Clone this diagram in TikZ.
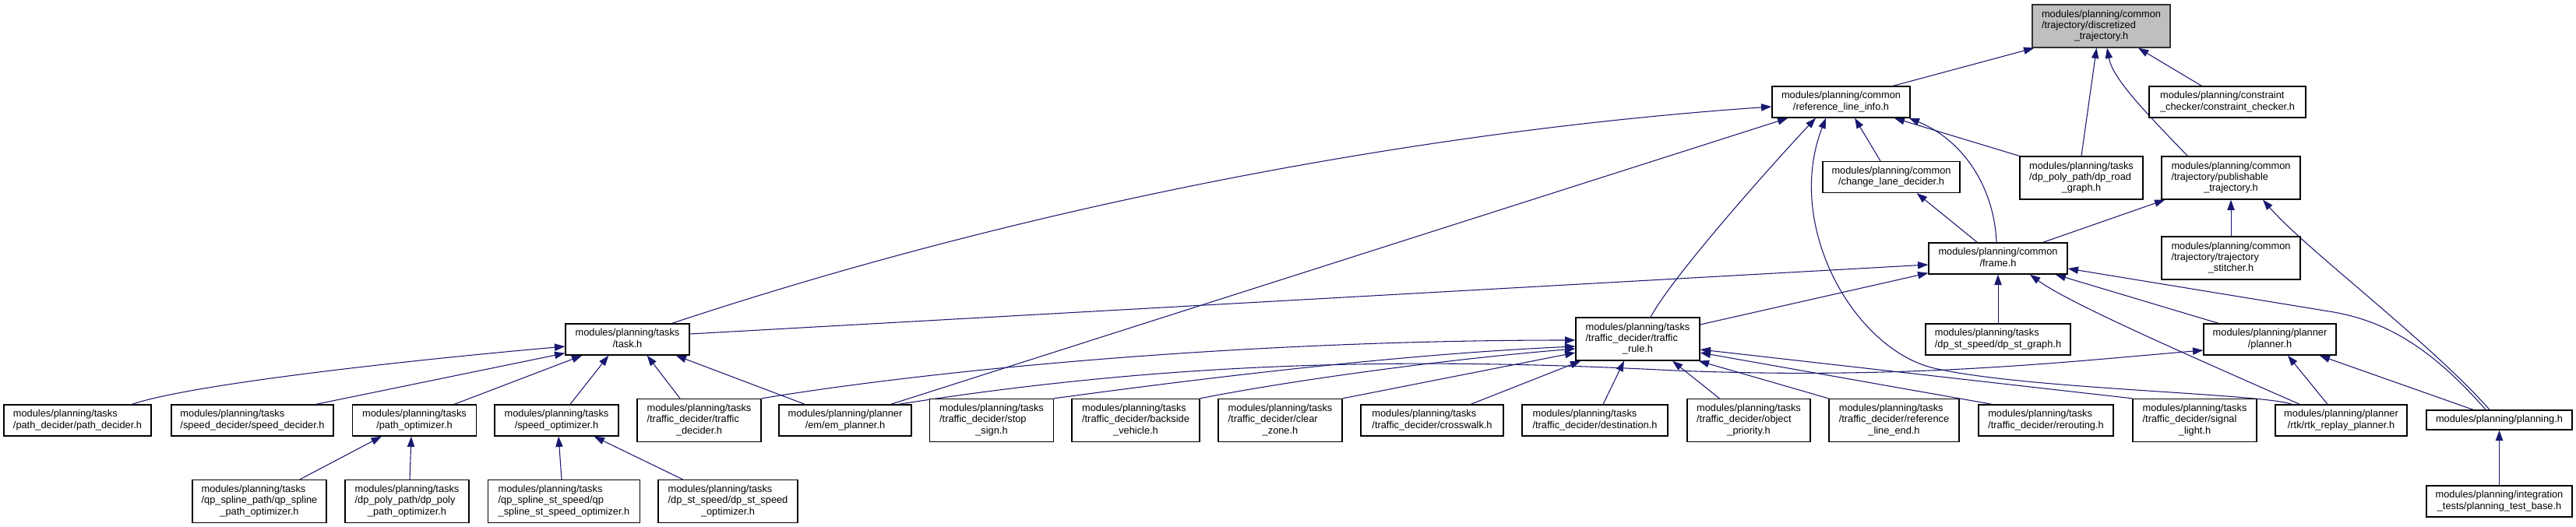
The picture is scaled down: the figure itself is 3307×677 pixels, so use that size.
\documentclass[tikz,border=0pt]{standalone}
\usepackage{fontspec}
\setmainfont{Liberation Sans}
\usetikzlibrary{arrows.meta,calc}
\definecolor{navy}{HTML}{191970}
\definecolor{rootgray}{HTML}{BFBFBF}
\newdimen\pxu \pxu=0.75pt
\newcommand\tl[2]{\begin{tabular}{@{}l@{}}#1\\\multicolumn{1}{@{}c@{}}{#2}\end{tabular}}
\pgfdeclarelayer{background}
\pgfsetlayers{background,main}
\begin{document}
\begin{tikzpicture}[x=0.75pt,y=-0.75pt,
  box/.style={draw=black,line width=1pt,fill=white,inner sep=0pt,rectangle,font=\fontsize{9.6}{10.75}\selectfont},
  rootbox/.style={fill=rootgray,draw=black!80},
  bw/.style={minimum width=#1\pxu},
  bh/.style={minimum height=#1\pxu},
  dep/.style={draw=navy,line width=0.8pt,-{Triangle[length=10pt,width=7pt]}}]
\useasboundingbox (0,0) rectangle (3307,677);
% top rows
\node[box,rootbox,bw=177,bh=55] (root) at (2697.5,33.5) {\tl{modules/planning/common\\/trajectory/discretized}{\_trajectory.h}};
\node[box,bw=177,bh=40] (rli) at (2363.5,131) {\tl{modules/planning/common}{/reference\_line\_info.h}};
\node[box,bw=201,bh=40] (cc) at (2859.5,131) {\tl{modules/planning/constraint}{\_checker/constraint\_checker.h}};
\node[box,bw=176,bh=40] (cld) at (2428,227.5) {\tl{modules/planning/common}{/change\_lane\_decider.h}};
\node[box,bw=158,bh=55] (drg) at (2672,228.5) {\tl{modules/planning/tasks\\/dp\_poly\_path/dp\_road}{\_graph.h}};
\node[box,bw=178,bh=55] (pub) at (2864,228.5) {\tl{modules/planning/common\\/trajectory/publishable}{\_trajectory.h}};
\node[box,bw=178,bh=40] (frame) at (2565,332) {\tl{modules/planning/common}{/frame.h}};
\node[box,bw=178,bh=55] (stitch) at (2864,331.5) {\tl{modules/planning/common\\/trajectory/trajectory}{\_stitcher.h}};
\node[box,bw=159,bh=40] (task) at (805.5,436) {\tl{modules/planning/tasks}{/task.h}};
\node[box,bw=159,bh=55] (trule) at (2102.5,435.5) {\tl{modules/planning/tasks\\/traffic\_decider/traffic}{\_rule.h}};
\node[box,bw=186,bh=40] (dpsg) at (2565,436) {\tl{modules/planning/tasks}{/dp\_st\_speed/dp\_st\_graph.h}};
\node[box,bw=170,bh=40] (planner) at (2914,436) {\tl{modules/planning/planner}{/planner.h}};
% row 5
\node[box,bw=189,bh=40] (pd) at (99.5,540) {\tl{modules/planning/tasks}{/path\_decider/path\_decider.h}};
\node[box,bw=208,bh=40] (sd) at (324,540) {\tl{modules/planning/tasks}{/speed\_decider/speed\_decider.h}};
\node[box,bw=159,bh=40] (po) at (532,540) {\tl{modules/planning/tasks}{/path\_optimizer.h}};
\node[box,bw=159,bh=40] (so) at (714.5,540) {\tl{modules/planning/tasks}{/speed\_optimizer.h}};
\node[box,bw=159,bh=55] (td) at (897.5,540) {\tl{modules/planning/tasks\\/traffic\_decider/traffic}{\_decider.h}};
\node[box,bw=170,bh=40] (em) at (1085,540) {\tl{modules/planning/planner}{/em/em\_planner.h}};
\node[box,bw=159,bh=55] (ss) at (1273,540) {\tl{modules/planning/tasks\\/traffic\_decider/stop}{\_sign.h}};
\node[box,bw=164,bh=55] (bv) at (1458,540) {\tl{modules/planning/tasks\\/traffic\_decider/backside}{\_vehicle.h}};
\node[box,bw=159,bh=55] (cz) at (1643.5,540) {\tl{modules/planning/tasks\\/traffic\_decider/clear}{\_zone.h}};
\node[box,bw=183,bh=40] (cw) at (1838.5,540) {\tl{modules/planning/tasks}{/traffic\_decider/crosswalk.h}};
\node[box,bw=187,bh=40] (dest) at (2047.5,540) {\tl{modules/planning/tasks}{/traffic\_decider/destination.h}};
\node[box,bw=158,bh=55] (op) at (2245,540) {\tl{modules/planning/tasks\\/traffic\_decider/object}{\_priority.h}};
\node[box,bw=167,bh=55] (rle) at (2431.5,540) {\tl{modules/planning/tasks\\/traffic\_decider/reference}{\_line\_end.h}};
\node[box,bw=173,bh=40] (rr) at (2626.5,540) {\tl{modules/planning/tasks}{/traffic\_decider/rerouting.h}};
\node[box,bw=159,bh=55] (sl) at (2817.5,540) {\tl{modules/planning/tasks\\/traffic\_decider/signal}{\_light.h}};
\node[box,bw=169,bh=40] (rtk) at (3005.5,540) {\tl{modules/planning/planner}{/rtk/rtk\_replay\_planner.h}};
\node[box,bw=187,bh=25] (planning) at (3208.5,539.5) {modules/planning/planning.h};
% row 6
\node[box,bw=172,bh=55] (qsp) at (333,644) {\tl{modules/planning/tasks\\/qp\_spline\_path/qp\_spline}{\_path\_optimizer.h}};
\node[box,bw=159,bh=55] (dpp) at (522.5,644) {\tl{modules/planning/tasks\\/dp\_poly\_path/dp\_poly}{\_path\_optimizer.h}};
\node[box,bw=195,bh=55] (qsss) at (724,644) {\tl{modules/planning/tasks\\/qp\_spline\_st\_speed/qp}{\_spline\_st\_speed\_optimizer.h}};
\node[box,bw=179,bh=55] (dsso) at (934.5,644) {\tl{modules/planning/tasks\\/dp\_st\_speed/dp\_st\_speed}{\_optimizer.h}};
\node[box,bw=187,bh=40] (ptb) at (3208.5,644) {\tl{modules/planning/integration}{\_tests/planning\_test\_base.h}};

\begin{pgfonlayer}{background}
% into root
\draw[dep] ($(rli.north west)+(156,0)$) -- ($(root.south west)+(3,0)$);
\draw[dep] (drg.north) -- ($(root.south)+(-6,0)$);
\draw[dep] ($(pub.north west)+(34,0)$) .. controls (2750,140) and (2712,100) .. ($(root.south)+(7.5,0)$);
\draw[dep] ($(cc.north west)+(68,0)$) -- ($(root.south)+(47.5,0)$);
% into reference_line_info
\draw[dep] ($(task.north east)+(-23,0)$) .. controls (1300,270) and (1800,170) .. ($(rli.west)+(0,6)$);
\draw[dep] ($(em.north east)+(-27,0)$) -- ($(rli.south west)+(21,0)$);
\draw[dep] ($(trule.north)+(16.5,0)$) .. controls (2150,350) and (2290,195) .. ($(rli.south)+(-32.5,0)$);
\draw[dep] ($(rtk.north west)+(22,0)$) .. controls (2900,505) and (2600,500) .. (2483,473) .. controls (2380,449) and (2290,290) .. ($(rli.south)+(-19.5,0)$);
\draw[dep] ($(cld.north)+(-14,0)$) -- ($(rli.south)+(17.5,0)$);
\draw[dep] (drg.north west) -- ($(rli.south east)+(-21,0)$);
\draw[dep] ($(frame.north)+(-2,0)$) .. controls (2560,240) and (2520,180) .. ($(rli.south east)+(-2,0)$);
% into publishable
\draw[dep] ($(frame.north east)+(-32,0)$) -- ($(pub.south west)+(5,0)$);
\draw[dep] (stitch.north) -- (pub.south);
\draw[dep] ($(planning.north)+(-12.5,0)$) .. controls (3120,440) and (2960,320) .. ($(pub.south)+(41,0)$);
% into change lane decider
\draw[dep] ($(frame.north west)+(63,0)$) -- ($(cld.south east)+(-56,0)$);
% into frame
\draw[dep] ($(planning.north)+(-17.5,0)$) .. controls (3120,445) and (3060,411) .. (2990,400) -- ($(frame.east)+(0,13)$);
\draw[dep] ($(task.east)+(0,-7)$) -- ($(frame.west)+(0,8)$);
\draw[dep] ($(trule.east)+(0,-18.5)$) -- ($(frame.south west)+(0,-2)$);
\draw[dep] (dpsg.north) -- (frame.south);
\draw[dep] ($(rtk.north west)+(32,0)$) .. controls (2760,435) and (2650,385) .. ($(frame.south)+(41,0)$);
\draw[dep] ($(planner.north)+(-66,0)$) -- ($(frame.south east)+(-16,0)$);
% into task
\draw[dep] ($(pd.north east)+(-25,0)$) .. controls (240,495) and (500,465) .. ($(task.west)+(0,9)$);
\draw[dep] ($(sd.north east)+(-23,0)$) -- ($(task.south west)+(0,-3)$);
\draw[dep] ($(po.north east)+(-29,0)$) -- ($(task.south west)+(22,0)$);
\draw[dep] ($(so.north)+(17.5,0)$) -- ($(task.south west)+(56,0)$);
\draw[dep] ($(td.north)+(-24.5,0)$) -- ($(task.south east)+(-55,0)$);
\draw[dep] ($(em.north west)+(34,0)$) -- ($(task.south east)+(-18,0)$);
% into optimizers
\draw[dep] ($(qsp.north)+(52,0)$) -- ($(po.south west)+(38,0)$);
\draw[dep] ($(dpp.north)+(3.5,0)$) -- ($(po.south)+(-4,0)$);
\draw[dep] ($(qsss.north)+(-3,0)$) -- ($(so.south)+(2.5,0)$);
\draw[dep] ($(dsso.north west)+(32,0)$) -- ($(so.south east)+(-32,0)$);
% into traffic rule
\draw[dep] (td.north east) .. controls (1200,475) and (1600,437) .. ($(trule.west)+(0,1.5)$);
\draw[dep] (ss.north east) .. controls (1550,485) and (1800,455) .. ($(trule.west)+(0,9.5)$);
\draw[dep] (bv.north east) .. controls (1650,490) and (1850,462) .. ($(trule.west)+(0,12.5)$);
\draw[dep] (cz.north east) -- ($(trule.west)+(0,17.5)$);
\draw[dep] ($(cw.north)+(49.5,0)$) -- ($(trule.south west)+(7,0)$);
\draw[dep] ($(dest.north)+(10.5,0)$) -- ($(trule.south)+(-17.5,0)$);
\draw[dep] ($(op.north west)+(42,0)$) -- ($(trule.south)+(44.5,0)$);
\draw[dep] (rle.north west) -- ($(trule.south east)+(-2,0)$);
\draw[dep] ($(rr.north west)+(18,0)$) -- ($(trule.east)+(0,17.5)$);
\draw[dep] (sl.north west) -- ($(trule.east)+(0,13.5)$);
% into planner
\draw[dep] ($(em.north east)+(-17,0)$) .. controls (1500,465) and (1800,458) .. (2150,476) .. controls (2450,488) and (2650,465) .. ($(planner.west)+(0,14)$);
\draw[dep] ($(rtk.north)+(-17.5,0)$) -- ($(planner.south)+(23,0)$);
\draw[dep] ($(planning.north)+(-33.5,0)$) -- ($(planner.south east)+(-22,0)$);
% into planning.h
\draw[dep] (ptb.north) -- (planning.south);
\end{pgfonlayer}
\end{tikzpicture}
\end{document}
